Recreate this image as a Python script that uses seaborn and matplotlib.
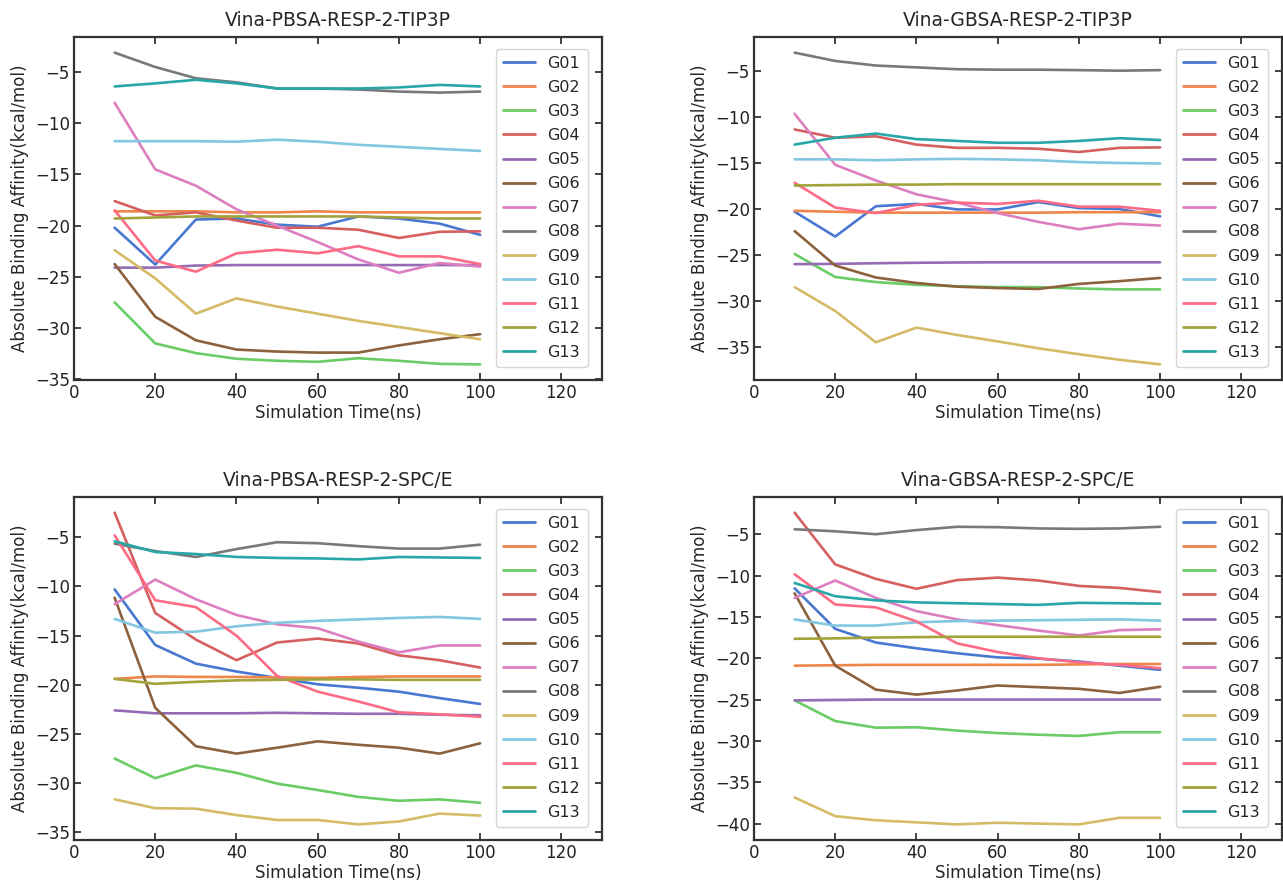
import numpy as np
import pandas as pd
import matplotlib
matplotlib.use("Agg")
import matplotlib.pyplot as plt
import seaborn as sns

# Simulation times (ns)
times = [10, 20, 30, 40, 50, 60, 70, 80, 90, 100]
groups = ["G01", "G02", "G03", "G04", "G05", "G06", "G07",
          "G08", "G09", "G10", "G11", "G12", "G13"]

# Absolute binding affinity (kcal/mol), one list per group
pbsa_tip3p = [
    [-20.2, -23.8, -19.4, -19.3, -19.9, -20.1, -19.1, -19.3, -19.8, -20.9],
    [-18.6, -18.6, -18.6, -18.7, -18.7, -18.6, -18.7, -18.7, -18.7, -18.7],
    [-27.5, -31.5, -32.45, -33.0, -33.2, -33.3, -32.95, -33.2, -33.5, -33.55],
    [-17.6, -19.0, -18.7, -19.5, -20.2, -20.2, -20.4, -21.2, -20.6, -20.55],
    [-24.1, -24.1, -23.9, -23.85, -23.85, -23.85, -23.85, -23.85, -23.85, -23.85],
    [-23.75, -28.9, -31.2, -32.1, -32.3, -32.4, -32.4, -31.7, -31.1, -30.6],
    [-8.0, -14.5, -16.1, -18.4, -20.0, -21.6, -23.3, -24.6, -23.65, -24.0],
    [-3.1, -4.5, -5.6, -6.0, -6.6, -6.6, -6.7, -6.9, -7.0, -6.9],
    [-22.4, -25.15, -28.6, -27.1, -27.9, -28.6, -29.3, -29.9, -30.5, -31.1],
    [-11.75, -11.75, -11.75, -11.8, -11.6, -11.8, -12.1, -12.3, -12.5, -12.7],
    [-18.5, -23.4, -24.5, -22.7, -22.35, -22.7, -22.0, -23.0, -23.0, -23.75],
    [-19.3, -19.2, -19.1, -19.1, -19.1, -19.1, -19.1, -19.2, -19.3, -19.3],
    [-6.4, -6.1, -5.75, -6.1, -6.6, -6.6, -6.6, -6.5, -6.25, -6.4],
]

gbsa_tip3p = [
    [-20.3, -23.0, -19.7, -19.45, -20.05, -20.05, -19.25, -19.9, -20.0, -20.8],
    [-20.2, -20.3, -20.4, -20.4, -20.4, -20.4, -20.4, -20.35, -20.35, -20.35],
    [-24.9, -27.4, -27.95, -28.25, -28.4, -28.5, -28.5, -28.65, -28.75, -28.75],
    [-11.35, -12.25, -12.1, -13.0, -13.35, -13.35, -13.45, -13.8, -13.35, -13.3],
    [-26.0, -25.97, -25.9, -25.85, -25.82, -25.8, -25.8, -25.8, -25.8, -25.8],
    [-22.4, -26.15, -27.45, -28.05, -28.45, -28.6, -28.7, -28.15, -27.85, -27.5],
    [-9.65, -15.2, -16.9, -18.4, -19.3, -20.45, -21.4, -22.2, -21.6, -21.8],
    [-3.0, -3.9, -4.4, -4.6, -4.8, -4.85, -4.85, -4.9, -4.96, -4.9],
    [-28.5, -31.1, -34.5, -32.9, -33.7, -34.4, -35.15, -35.8, -36.4, -36.9],
    [-14.6, -14.6, -14.7, -14.6, -14.55, -14.6, -14.7, -14.9, -15.0, -15.05],
    [-17.15, -19.85, -20.45, -19.55, -19.3, -19.45, -19.1, -19.75, -19.75, -20.2],
    [-17.45, -17.4, -17.35, -17.35, -17.3, -17.3, -17.3, -17.3, -17.3, -17.3],
    [-13.0, -12.25, -11.8, -12.4, -12.6, -12.8, -12.8, -12.6, -12.3, -12.5],
]

pbsa_spce = [
    [-10.3, -15.95, -17.85, -18.65, -19.3, -19.95, -20.3, -20.7, -21.35, -21.95],
    [-19.4, -19.15, -19.2, -19.2, -19.25, -19.3, -19.2, -19.15, -19.15, -19.15],
    [-27.5, -29.5, -28.2, -28.95, -30.05, -30.7, -31.4, -31.8, -31.65, -32.0],
    [-2.5, -12.7, -15.4, -17.5, -15.7, -15.3, -15.8, -17.0, -17.5, -18.25],
    [-22.6, -22.9, -22.9, -22.9, -22.85, -22.9, -22.95, -22.95, -23.05, -23.1],
    [-11.15, -22.35, -26.25, -27.0, -26.4, -25.75, -26.1, -26.4, -27.0, -25.95],
    [-11.8, -9.3, -11.3, -12.9, -13.85, -14.25, -15.6, -16.7, -16.0, -16.0],
    [-5.65, -6.4, -7.0, -6.2, -5.5, -5.6, -5.9, -6.15, -6.15, -5.75],
    [-31.65, -32.55, -32.6, -33.25, -33.75, -33.75, -34.2, -33.9, -33.1, -33.3],
    [-13.3, -14.7, -14.6, -14.05, -13.7, -13.5, -13.35, -13.2, -13.1, -13.3],
    [-4.8, -11.4, -12.1, -15.0, -19.1, -20.7, -21.7, -22.8, -23.0, -23.25],
    [-19.4, -19.9, -19.7, -19.55, -19.5, -19.45, -19.45, -19.5, -19.5, -19.5],
    [-5.4, -6.5, -6.7, -7.0, -7.1, -7.15, -7.25, -7.0, -7.05, -7.1],
]

gbsa_spce = [
    [-11.55, -16.45, -18.1, -18.8, -19.4, -19.9, -20.05, -20.4, -20.9, -21.4],
    [-20.9, -20.85, -20.8, -20.8, -20.8, -20.8, -20.8, -20.75, -20.7, -20.7],
    [-25.1, -27.6, -28.4, -28.35, -28.75, -29.05, -29.25, -29.4, -28.95, -28.95],
    [-2.4, -8.65, -10.4, -11.6, -10.55, -10.25, -10.6, -11.25, -11.5, -12.0],
    [-25.1, -25.05, -25.0, -25.0, -25.0, -25.0, -25.0, -25.0, -25.0, -25.0],
    [-12.15, -20.9, -23.8, -24.4, -23.9, -23.3, -23.5, -23.7, -24.2, -23.45],
    [-12.7, -10.6, -12.7, -14.3, -15.3, -16.0, -16.65, -17.25, -16.6, -16.5],
    [-4.4, -4.65, -5.0, -4.5, -4.1, -4.15, -4.3, -4.35, -4.3, -4.1],
    [-36.85, -39.1, -39.6, -39.85, -40.1, -39.9, -40.0, -40.1, -39.3, -39.3],
    [-15.3, -16.05, -16.05, -15.65, -15.5, -15.45, -15.4, -15.35, -15.3, -15.45],
    [-9.85, -13.5, -13.85, -15.55, -18.2, -19.25, -20.0, -20.5, -20.8, -21.2],
    [-17.65, -17.6, -17.5, -17.45, -17.4, -17.4, -17.4, -17.4, -17.4, -17.4],
    [-10.9, -12.5, -13.0, -13.25, -13.35, -13.45, -13.55, -13.3, -13.35, -13.4],
]

titles = ["Vina-PBSA-RESP-2-TIP3P", "Vina-GBSA-RESP-2-TIP3P",
          "Vina-PBSA-RESP-2-SPC/E", "Vina-GBSA-RESP-2-SPC/E"]
panels = [pbsa_tip3p, gbsa_tip3p, pbsa_spce, gbsa_spce]

palette = sns.color_palette("muted", 10) + ["#fd6b85", "#a3a33c", "#28a7a9"]

sns.set_style("white")
plt.rcParams["font.family"] = ["DejaVu Sans"]
plt.rcParams["axes.edgecolor"] = "#333333"
plt.rcParams["axes.linewidth"] = 1.6

fig = plt.figure(figsize=(12.83, 8.83), dpi=100)
boxes = [
    [0.0577, 0.5697, 0.4115, 0.3883],
    [0.5877, 0.5697, 0.4115, 0.3883],
    [0.0577, 0.0487, 0.4115, 0.3883],
    [0.5877, 0.0487, 0.4115, 0.3883],
]

for box, title, panel in zip(boxes, titles, panels):
    ax = fig.add_axes(box)
    df = pd.DataFrame(
        [(t, v, g) for g, vals in zip(groups, panel) for t, v in zip(times, vals)],
        columns=["time", "affinity", "group"],
    )
    sns.lineplot(data=df, x="time", y="affinity", hue="group",
                 hue_order=groups, palette=palette, linewidth=1.9, ax=ax)
    ax.set_xlim(0, 130)
    ax.set_xticks([0, 20, 40, 60, 80, 100, 120])
    ax.tick_params(direction="in", bottom=True, left=True, top=True, right=True,
                   length=5, width=1.2, labelsize=12, colors="#222222", pad=3)
    ax.set_title(title, fontsize=13.5, pad=8)
    ax.set_xlabel("Simulation Time(ns)", fontsize=12, labelpad=1.5)
    ax.set_ylabel("Absolute Binding Affinity(kcal/mol)", fontsize=12, labelpad=4)
    leg = ax.legend(loc="upper right", fontsize=11.5, frameon=True,
                    handlelength=2.0, labelspacing=0.57, borderpad=0.45,
                    bbox_to_anchor=(0.988, 0.99))
    leg.get_frame().set_edgecolor("#cccccc")
    for line in leg.get_lines():
        line.set_linewidth(2)

fig.savefig("out.png", dpi=100, facecolor="white")
